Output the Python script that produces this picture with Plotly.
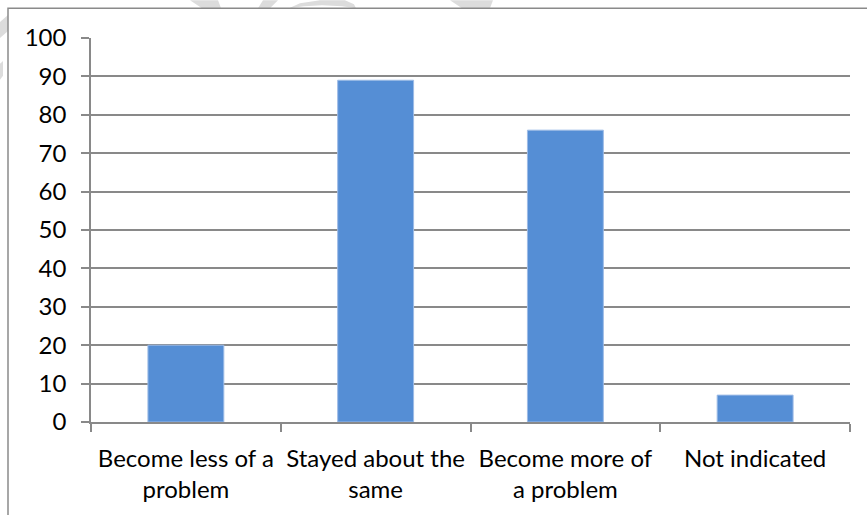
import plotly.graph_objects as go

categories = ["Become less of a<br>problem", "Stayed about the<br>same", "Become more of<br>a problem", "Not indicated"]
values = [20, 89, 76, 7]
y_ticks = [0, 10, 20, 30, 40, 50, 60, 70, 80, 90, 100]

W, H = 867, 515
L, R, T, B = 91, 17, 38, 91
pw, ph = W - L - R, H - T - B

grid = "#898989"
font = dict(family="Lato, 'Open Sans', sans-serif", size=24, color="#000000")


def px(x, y):
    return (x - L) / pw, (H - B - y) / ph


fig = go.Figure()
fig.add_trace(go.Bar(
    x=categories, y=values,
    marker=dict(color="#558ED5", line=dict(color="#9DBBE6", width=1)),
    hoverinfo="skip",
))

fig.update_layout(
    width=W, height=H,
    margin=dict(l=L, r=R, t=T, b=B, pad=0),
    paper_bgcolor="white", plot_bgcolor="white",
    bargap=0.6, showlegend=False, font=font,
    xaxis=dict(
        showgrid=False, showline=True, linecolor=grid, linewidth=1.5,
        ticks="outside", ticklen=8, tickcolor=grid, tickwidth=1.5,
        tickson="boundaries", tickfont=font, fixedrange=True,
        ticklabelstandoff=14,
    ),
    yaxis=dict(
        range=[0, 100], tickvals=y_ticks, showgrid=True, gridcolor=grid, gridwidth=1.5,
        showline=True, linecolor=grid, linewidth=1.5, zeroline=False,
        ticks="outside", ticklen=8, tickcolor=grid, tickwidth=1.5,
        tickfont=font, fixedrange=True, ticklabelstandoff=10,
    ),
)

# faint watermark fragments visible outside the chart frame
wm = [
    [(0, 22), (8, 15), (8, 31), (0, 38)],
    [(0, 64), (3, 61), (3, 76), (0, 80)],
    [(190, 0), (218, 0), (221, 8), (202, 8)],
    [(263, 0), (278, 0), (270, 8), (258, 8)],
    [(289, 8), (300, 3), (320, 0), (345, 0), (354, 4), (356, 8), (342, 6), (322, 5), (304, 6)],
    [(450, 0), (493, 0), (490, 8), (462, 8)],
]
for poly in wm:
    pts = [px(x, y) for x, y in poly]
    path = "M " + " L ".join(f"{a:.5f},{b:.5f}" for a, b in pts) + " Z"
    fig.add_shape(type="path", xref="paper", yref="paper", path=path,
                  fillcolor="#dcdcdc", line=dict(width=0), layer="below")

# outer chart border (extends past the right and bottom edges of the picture)
x0, y1 = px(8, 8)
fig.add_shape(type="rect", xref="paper", yref="paper",
              x0=x0, x1=1.2, y0=-0.5, y1=y1,
              line=dict(color="#8a8a8a", width=1.5), fillcolor="white", layer="below")

fig.write_html("out.html", config={"displayModeBar": False})
